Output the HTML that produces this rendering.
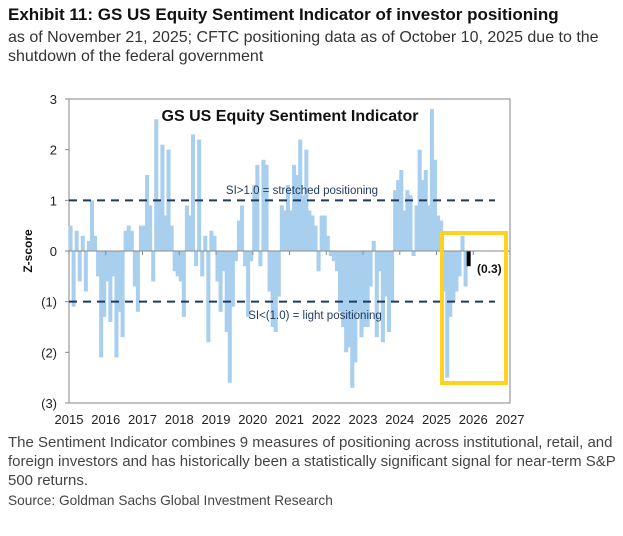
<!DOCTYPE html>
<html><head><meta charset="utf-8"><style>
body{margin:0;width:623px;height:536px;background:#fff;font-family:"Liberation Sans",sans-serif;overflow:hidden;position:relative;color:#222}
.t{position:absolute;left:8px;white-space:nowrap}
</style></head><body>
<div class="t" style="top:5px;font-size:17px;font-weight:bold;color:#111">Exhibit 11: GS US Equity Sentiment Indicator of investor positioning</div>
<div class="t" style="top:28px;font-size:16px;line-height:19px;color:#333">as of November 21, 2025; CFTC positioning data as of October 10, 2025 due to the<br>shutdown of the federal government</div>
<svg id="chart" width="623" height="440" style="position:absolute;left:0;top:0"></svg>
<div class="t" style="top:433px;font-size:15px;line-height:19px;color:#444">The Sentiment Indicator combines 9 measures of positioning across institutional, retail, and<br>foreign investors and has historically been a statistically significant signal for near-term S&amp;P<br>500 returns.</div>
<div class="t" style="top:493px;font-size:13.7px;color:#444">Source: Goldman Sachs Global Investment Research</div>
<script>
const startYear = 2015;
const values = [
0.5,-1.1,0.4,-0.6,0.3,-0.8,0.2,1.0,0.3,-0.5,-2.1,-1.3,
-0.6,-1.4,-0.5,-2.1,-1.2,-1.7,0.4,0.5,0.4,-0.7,-1.2,0.5,
0.5,1.5,0.9,-0.6,2.6,1.0,2.1,0.7,2.0,0.5,-0.4,-0.5,
-0.6,-1.3,0.9,0.7,2.3,-0.3,2.2,-0.5,0.3,-1.8,0.4,0.3,
-0.6,-1.2,-0.4,-1.6,-2.6,-1.1,-0.2,0.6,0.9,-0.3,-1.3,-0.2,
1.3,1.7,-0.3,1.8,1.7,-0.8,-1.5,-1.6,-0.9,0.9,0.8,1.3,
0.8,1.7,1.5,2.2,1.1,2.0,0.8,0.7,0.5,-0.4,0.7,0.7,
0.3,-0.1,-0.2,-0.4,-1.2,-1.5,-2.0,-1.9,-2.7,-2.2,-1.2,-1.7,
-1.5,-1.5,-0.7,0.2,-1.7,-0.4,-1.8,-0.9,-1.6,-1.0,1.2,1.4,
1.6,0.8,1.2,1.1,-0.1,0.9,2.0,1.4,1.6,0.9,2.8,1.8,
0.7,0.6,-0.8,-2.5,-1.3,-1.0,-0.8,-0.5,0.3,-0.7,-0.3];
const yTicks = [3,2,1,0,-1,-2,-3];
const yTickLabels = ["3","2","1","0","(1)","(2)","(3)"];
const xTicks = [2015,2016,2017,2018,2019,2020,2021,2022,2023,2024,2025,2026,2027];
const latestLabel = "(0.3)";

const svg = document.getElementById('chart');
const NS = 'http://www.w3.org/2000/svg';
const X0=69, X1=510, Y0=99, Y1=403;
const xs = yr => X0 + (yr-2015)/(2027-2015)*(X1-X0);
const ys = v => Y0 + (3-v)/6*(Y1-Y0);
function mk(tag, at){const e=document.createElementNS(NS,tag);for(const k in at)e.setAttribute(k,at[k]);svg.appendChild(e);return e;}

const frame = mk('rect',{x:X0,y:Y0,width:X1-X0,height:Y1-Y0,fill:'none',stroke:'#999','stroke-width':1.2});



const bw = (xs(2016)-xs(2015))/12;
values.forEach((v,i)=>{
  const yr = startYear + (i+0.5)/12;
  const last = i===values.length-1;
  const r = mk('rect',{x:xs(yr)-(last?2:bw/2+0.5),width:last?4:bw+1,y:Math.min(ys(v),ys(0)),height:Math.abs(ys(v)-ys(0)),fill:last?'#000':'#A9CFEE'});
  
  
});

const zl = mk('line',{x1:X0,x2:X1,y1:ys(0),y2:ys(0),stroke:'#888','stroke-width':1});


xTicks.forEach(t=>{
  const l = mk('line',{x1:xs(t),x2:xs(t),y1:ys(0),y2:ys(0)+4,stroke:'#888'});
  
  
  const tx = mk('text',{x:xs(t),y:424,'text-anchor':'middle','font-size':13,fill:'#222'});
  tx.textContent = t;
  
  
});
yTicks.forEach((t,i)=>{
  const l = mk('line',{x1:X0-4,x2:X0,y1:ys(t),y2:ys(t),stroke:'#888'});
  
  
  const tx = mk('text',{x:57,y:ys(t)+5,'text-anchor':'end','font-size':13,fill:'#222'});
  tx.textContent = yTickLabels[i];
  
  
});
[1,-1].forEach(v=>{
  const l = mk('line',{x1:X0,x2:495,y1:ys(v),y2:ys(v),stroke:'#1F3A5F','stroke-width':2,'stroke-dasharray':'8,6'});
  
  
});
function txt(s,x,y,at,name){const e=mk('text',Object.assign({x:x,y:y},at));e.textContent=s;return e;}
txt('GS US Equity  Sentiment Indicator',290,121,{'text-anchor':'middle','font-size':16,'font-weight':'bold',fill:'#111'},'chart-title');
txt('SI>1.0 = stretched positioning',302,194,{'text-anchor':'middle','font-size':11.5,fill:'#1F3A5F'},'stretched-label');
txt('SI<(1.0) = light positioning',315,319,{'text-anchor':'middle','font-size':11.5,fill:'#1F3A5F'},'light-label');
txt(latestLabel,477,273,{'font-size':12,'font-weight':'bold',fill:'#111'},'latest-value-label');
txt('Z-score',0,0,{'font-size':12,'font-weight':'bold',fill:'#111','text-anchor':'middle',transform:'translate(32,251) rotate(-90)'},'y-axis-title');
const box = mk('rect',{x:442,y:233,width:64,height:150,fill:'none',stroke:'#FFD21F','stroke-width':4});


</script>
</body></html>
